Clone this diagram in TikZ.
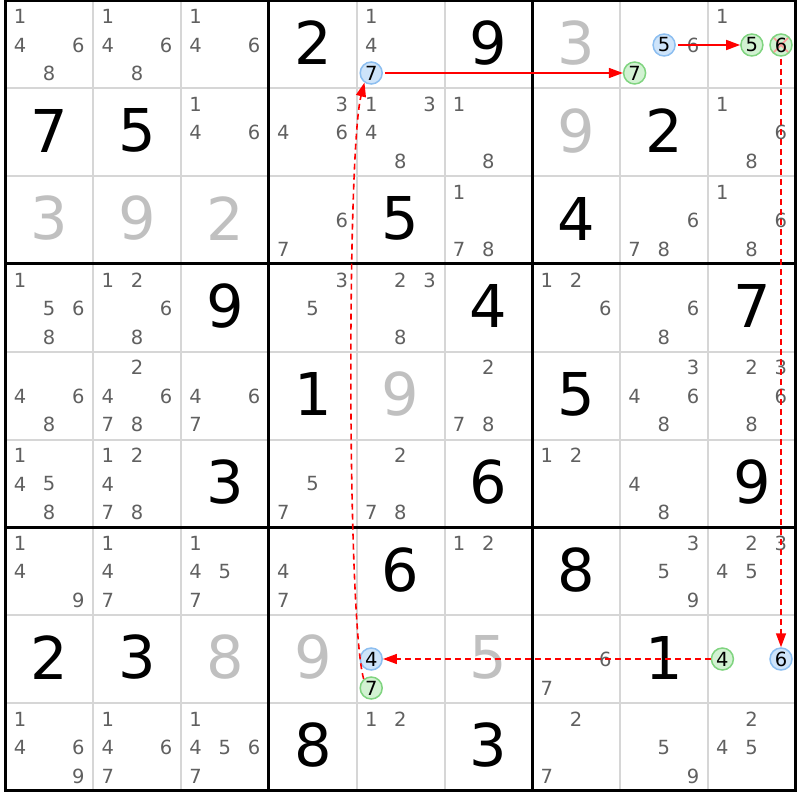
\documentclass[tikz,border=0pt]{standalone}
\usepackage{fontspec}
\setmainfont{DejaVu Sans}
\usetikzlibrary{arrows.meta}

\definecolor{candgray}{RGB}{96,96,96}
\definecolor{givengray}{RGB}{192,192,192}
\definecolor{thingrid}{RGB}{214,214,214}
\definecolor{onfill}{RGB}{206,228,250}
\definecolor{ondraw}{RGB}{140,190,240}
\definecolor{offfill}{RGB}{210,242,210}
\definecolor{offdraw}{RGB}{128,212,128}
\definecolor{linkred}{RGB}{255,0,0}

\tikzset{
  bigdigit/.style={font=\fontsize{59}{60}\selectfont, inner sep=0pt},
  cand/.style={font=\fontsize{19.5}{20}\selectfont, text=candgray, inner sep=0pt},
  oncand/.style={circle, draw=ondraw, fill=onfill, line width=1.5pt, minimum size=22pt, inner sep=0pt, font=\fontsize{19.5}{20}\selectfont},
  offcand/.style={circle, draw=offdraw, fill=offfill, line width=1.5pt, minimum size=22pt, inner sep=0pt, font=\fontsize{19.5}{20}\selectfont},
  link/.style={draw=linkred, line width=1.6pt, -{Triangle[length=14pt,width=10pt]}},
  weaklink/.style={link, dash pattern=on 6pt off 4pt},
}

\begin{document}
\begin{tikzpicture}[x=1pt,y=-1pt]
\useasboundingbox (0,0) rectangle (800,800);
%Grid:
\foreach \i in {1,2,4,5,7,8} {
  \draw [thingrid, line width=2pt] ({5.5+\i*87.8},0.5) -- ({5.5+\i*87.8},790.7);
  \draw [thingrid, line width=2pt] (5.5,{0.5+\i*87.8}) -- (795.7,{0.5+\i*87.8});
}
\foreach \i in {0,3,6,9} {
  \draw [black, line width=3pt] ({5.5+\i*87.8},-1) -- ({5.5+\i*87.8},792.2);
  \draw [black, line width=3pt] (4,{0.5+\i*87.8}) -- (797.2,{0.5+\i*87.8});
}
%Values:
\foreach \r/\c/\d/\col in {1/4/2/black, 1/6/9/black, 1/7/3/givengray,
  2/1/7/black, 2/2/5/black, 2/7/9/givengray, 2/8/2/black,
  3/1/3/givengray, 3/2/9/givengray, 3/3/2/givengray, 3/5/5/black, 3/7/4/black,
  4/3/9/black, 4/6/4/black, 4/9/7/black,
  5/4/1/black, 5/5/9/givengray, 5/7/5/black,
  6/3/3/black, 6/6/6/black, 6/9/9/black,
  7/5/6/black, 7/7/8/black,
  8/1/2/black, 8/2/3/black, 8/3/8/givengray, 8/4/9/givengray, 8/6/5/givengray, 8/8/1/black,
  9/4/8/black, 9/6/3/black}
  \node (v\r\c) [bigdigit, text=\col] at ({5.5+(\c-0.5)*87.8},{(\r-0.5)*87.8-1}) {\d};
%Candidates:
\foreach \r/\c/\list in {1/1/{1,4,6,8}, 1/2/{1,4,6,8}, 1/3/{1,4,6}, 1/5/{1,4}, 1/8/{6}, 1/9/{1},
  2/3/{1,4,6}, 2/4/{3,4,6}, 2/5/{1,3,4,8}, 2/6/{1,8}, 2/9/{1,6,8},
  3/4/{6,7}, 3/6/{1,7,8}, 3/8/{6,7,8}, 3/9/{1,6,8},
  4/1/{1,5,6,8}, 4/2/{1,2,6,8}, 4/4/{3,5}, 4/5/{2,3,8}, 4/7/{1,2,6}, 4/8/{6,8},
  5/1/{4,6,8}, 5/2/{2,4,6,7,8}, 5/3/{4,6,7}, 5/6/{2,7,8}, 5/8/{3,4,6,8}, 5/9/{2,3,6,8},
  6/1/{1,4,5,8}, 6/2/{1,2,4,7,8}, 6/4/{5,7}, 6/5/{2,7,8}, 6/7/{1,2}, 6/8/{4,8},
  7/1/{1,4,9}, 7/2/{1,4,7}, 7/3/{1,4,5,7}, 7/4/{4,7}, 7/6/{1,2}, 7/8/{3,5,9}, 7/9/{2,3,4,5},
  8/7/{6,7},
  9/1/{1,4,6,9}, 9/2/{1,4,6,7}, 9/3/{1,4,5,6,7}, 9/5/{1,2}, 9/7/{2,7}, 9/8/{5,9}, 9/9/{2,4,5}}
  \foreach \d in \list {
    \pgfmathsetmacro\px{5.5+(\c-1)*87.8+14.5+29.2*mod(\d-1,3)}
    \pgfmathsetmacro\py{0.5+(\r-1)*87.8+16+28.5*div(\d-1,3)}
    \node (k\r\c\d) [cand] at (\px,\py) {\d};
  }
%Chain candidates:
\node (a157) [oncand] at (371.2,73) {7};
\node (a185) [oncand] at (664.1,45) {5};
\node (a187) [offcand] at (634.6,73) {7};
\node (a195) [offcand] at (751.9,45) {5};
\node (a196) [offcand, path picture={
  \draw [red!40, line width=1.5pt] (path picture bounding box.north west) -- (path picture bounding box.south east);
  \draw [red!40, line width=1.5pt] (path picture bounding box.north east) -- (path picture bounding box.south west);
  }] at (781,45) {6};
\node (a854) [oncand] at (371.2,659) {4};
\node (a857) [offcand] at (371.2,688) {7};
\node (a894) [offcand] at (722.4,659) {4};
\node (a896) [oncand] at (781,659) {6};
%Strong links:
\draw [link, shorten <=2pt] (a157) -- (a187);
\draw [link, shorten <=2pt] (a185) -- (a195);
%Weak links:
\draw [weaklink, shorten <=2pt] (a196) -- (a896);
\draw [weaklink] (a894) -- (a854);
\draw [weaklink] (a857.130) .. controls (347,620) and (347,150) .. (a157.235);
\end{tikzpicture}
\end{document}
